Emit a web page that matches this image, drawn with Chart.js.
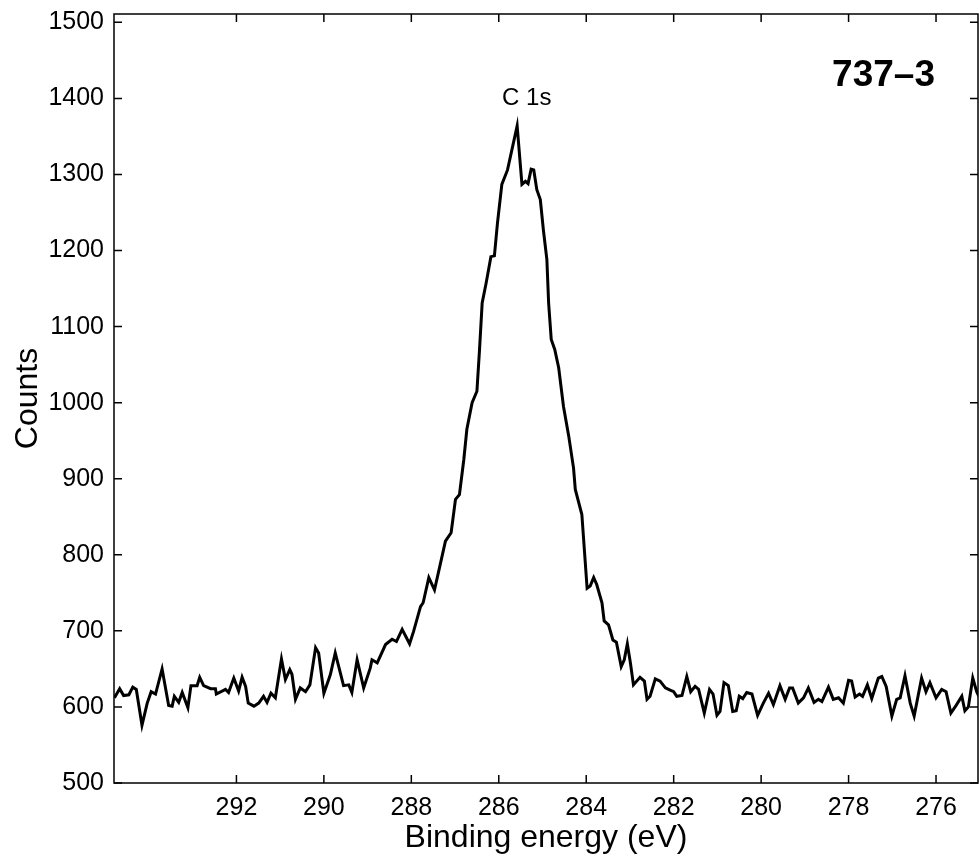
<!DOCTYPE html>
<html>
<head>
<meta charset="utf-8">
<script src="https://cdn.jsdelivr.net/npm/chart.js@4.4.1/dist/chart.umd.min.js"></script>
<style>
html,body{margin:0;padding:0;background:#fff;}
#wrap{width:979px;height:858px;position:relative;}
</style>
</head>
<body>
<div id="wrap"><canvas id="c"></canvas></div>
<script>
const energy = [294.79,294.67,294.58,294.46,294.37,294.29,294.16,294.04,293.95,293.85,
293.70,293.55,293.47,293.42,293.32,293.24,293.11,293.04,292.90,292.84,
292.75,292.59,292.48,292.46,292.25,292.18,292.06,291.95,291.87,291.79,
291.73,291.60,291.49,291.38,291.30,291.21,291.11,290.97,290.88,290.78,
290.73,290.65,290.54,290.42,290.32,290.19,290.12,290.00,289.89,289.85,
289.74,289.66,289.55,289.43,289.36,289.24,289.09,288.94,288.90,288.78,
288.59,288.44,288.34,288.21,288.04,287.95,287.79,287.73,287.60,287.47,
287.34,287.22,287.09,286.99,286.90,286.80,286.73,286.61,286.50,286.44,
286.38,286.29,286.18,286.10,286.03,285.93,285.80,285.58,285.47,285.39,
285.33,285.26,285.20,285.13,285.05,284.98,284.90,284.86,284.80,284.72,
284.63,284.52,284.40,284.29,284.25,284.10,283.98,283.91,283.83,283.76,
283.64,283.59,283.49,283.39,283.31,283.20,283.13,283.06,282.99,282.92,
282.77,282.67,282.61,282.54,282.42,282.31,282.19,282.08,282.00,281.93,
281.81,281.70,281.61,281.51,281.43,281.30,281.18,281.10,281.01,280.94,
280.85,280.75,280.65,280.57,280.50,280.42,280.33,280.21,280.08,279.95,
279.83,279.72,279.57,279.45,279.35,279.28,279.15,279.03,278.92,278.79,
278.69,278.61,278.46,278.35,278.23,278.12,278.00,277.93,277.85,277.75,
277.68,277.57,277.47,277.32,277.24,277.14,277.01,276.90,276.82,276.71,
276.59,276.50,276.33,276.23,276.14,276.00,275.87,275.77,275.66,275.54,
275.41,275.34,275.26,275.16,275.07,275.02];

const counts = [612,624,615,616,626,623,576,605,620,617,
650,602,601,614,606,619,599,628,628,639,
628,624,624,617,623,619,638,621,639,627,
605,601,605,614,606,618,612,663,636,649,
643,610,625,620,629,678,671,618,636,643,
671,653,628,629,619,662,625,651,662,658,
682,689,686,702,683,699,732,737,770,754,
787,818,829,873,879,925,965,1000,1015,1070,
1131,1157,1192,1193,1236,1287,1306,1364,1287,1291,
1288,1307,1306,1280,1267,1227,1188,1131,1083,1070,
1046,995,956,914,886,853,756,759,770,761,
737,713,708,688,685,653,662,683,658,629,
639,634,610,614,637,634,625,622,620,614,
615,640,620,627,623,592,623,617,589,594,
632,628,594,595,614,611,619,617,589,605,
618,603,628,610,625,625,605,612,625,606,
610,607,626,610,612,605,635,634,613,617,
614,629,611,638,640,627,588,610,612,641,
605,588,638,620,632,612,623,620,592,602,
614,595,600,638,620,614];

const xTicks = [292,290,288,286,284,282,280,278,276];
const yTicks = [500,600,700,800,900,1000,1100,1200,1300,1400,1500];

const xTitle = 'Binding energy (eV)';
const yTitle = 'Counts';
const peakLabel = 'C 1s';
const sampleLabel = '737\u20133';

const FONT = '"Liberation Sans", Arial, Helvetica, sans-serif';
Chart.defaults.font.family = FONT;
Chart.defaults.color = '#000';

const framePlugin = {
  id: 'frame',
  afterDatasetsDraw(chart) {
    const {ctx, chartArea: a, scales: {x, y}} = chart;
    ctx.save();
    ctx.strokeStyle = '#000';
    ctx.lineWidth = 1.5;
    ctx.strokeRect(a.left, a.top, a.right - a.left, a.bottom - a.top);
    const L = 8;
    ctx.beginPath();
    xTicks.forEach(v => {
      const p = x.getPixelForValue(v);
      ctx.moveTo(p, a.bottom); ctx.lineTo(p, a.bottom - L);
      ctx.moveTo(p, a.top); ctx.lineTo(p, a.top + L);
    });
    yTicks.forEach(v => {
      const p = y.getPixelForValue(v);
      ctx.moveTo(a.left, p); ctx.lineTo(a.left + L, p);
      ctx.moveTo(a.right, p); ctx.lineTo(a.right - L, p);
    });
    ctx.stroke();
    ctx.fillStyle = '#000';
    ctx.textAlign = 'center';
    ctx.textBaseline = 'middle';
    ctx.font = '24px ' + FONT;
    ctx.fillText(peakLabel, x.getPixelForValue(285.36), y.getPixelForValue(1400));
    ctx.font = 'bold 37px ' + FONT;
    ctx.fillText(sampleLabel, x.getPixelForValue(277.2), y.getPixelForValue(1430));
    ctx.restore();
  }
};

new Chart(document.getElementById('c'), {
  type: 'line',
  data: {
    datasets: [{
      data: energy.map((e, i) => ({x: e, y: counts[i]})),
      borderColor: '#000',
      borderWidth: 3,
      pointRadius: 0,
      tension: 0,
      fill: false
    }]
  },
  options: {
    responsive: true,
    maintainAspectRatio: false,
    animation: false,
    devicePixelRatio: 1,
    layout: {padding: {top: 14, right: 1, left: 0, bottom: 0}},
    plugins: {legend: {display: false}, tooltip: {enabled: false}},
    scales: {
      x: {
        type: 'linear',
        reverse: true,
        min: 275.04,
        max: 294.8,
        grid: {display: false, drawTicks: false},
        border: {display: false},
        afterBuildTicks: s => { s.ticks = xTicks.map(v => ({value: v})); },
        afterFit: s => { s.height = 75; s.paddingLeft = 0; s.paddingRight = 0; },
        ticks: {
          padding: 10,
          font: {size: 25},
          color: '#000',
          maxRotation: 0,
          autoSkip: false,
          callback: v => String(v)
        },
        title: {
          display: true,
          text: xTitle,
          font: {size: 32, lineHeight: '40px'},
          padding: {top: 0, bottom: 0},
          color: '#000'
        }
      },
      y: {
        type: 'linear',
        min: 500,
        max: 1511,
        grid: {display: false, drawTicks: false},
        border: {display: false},
        afterBuildTicks: s => { s.ticks = yTicks.map(v => ({value: v})); },
        afterFit: s => { s.width = 114; s.paddingTop = 0; s.paddingBottom = 0; },
        ticks: {
          padding: 10,
          font: {size: 25},
          color: '#000',
          autoSkip: false,
          callback: v => String(v)
        },
        title: {
          display: true,
          text: yTitle,
          font: {size: 32, lineHeight: '32px'},
          padding: {top: 12, bottom: 0},
          color: '#000'
        }
      }
    }
  },
  plugins: [framePlugin]
});
</script>
</body>
</html>
